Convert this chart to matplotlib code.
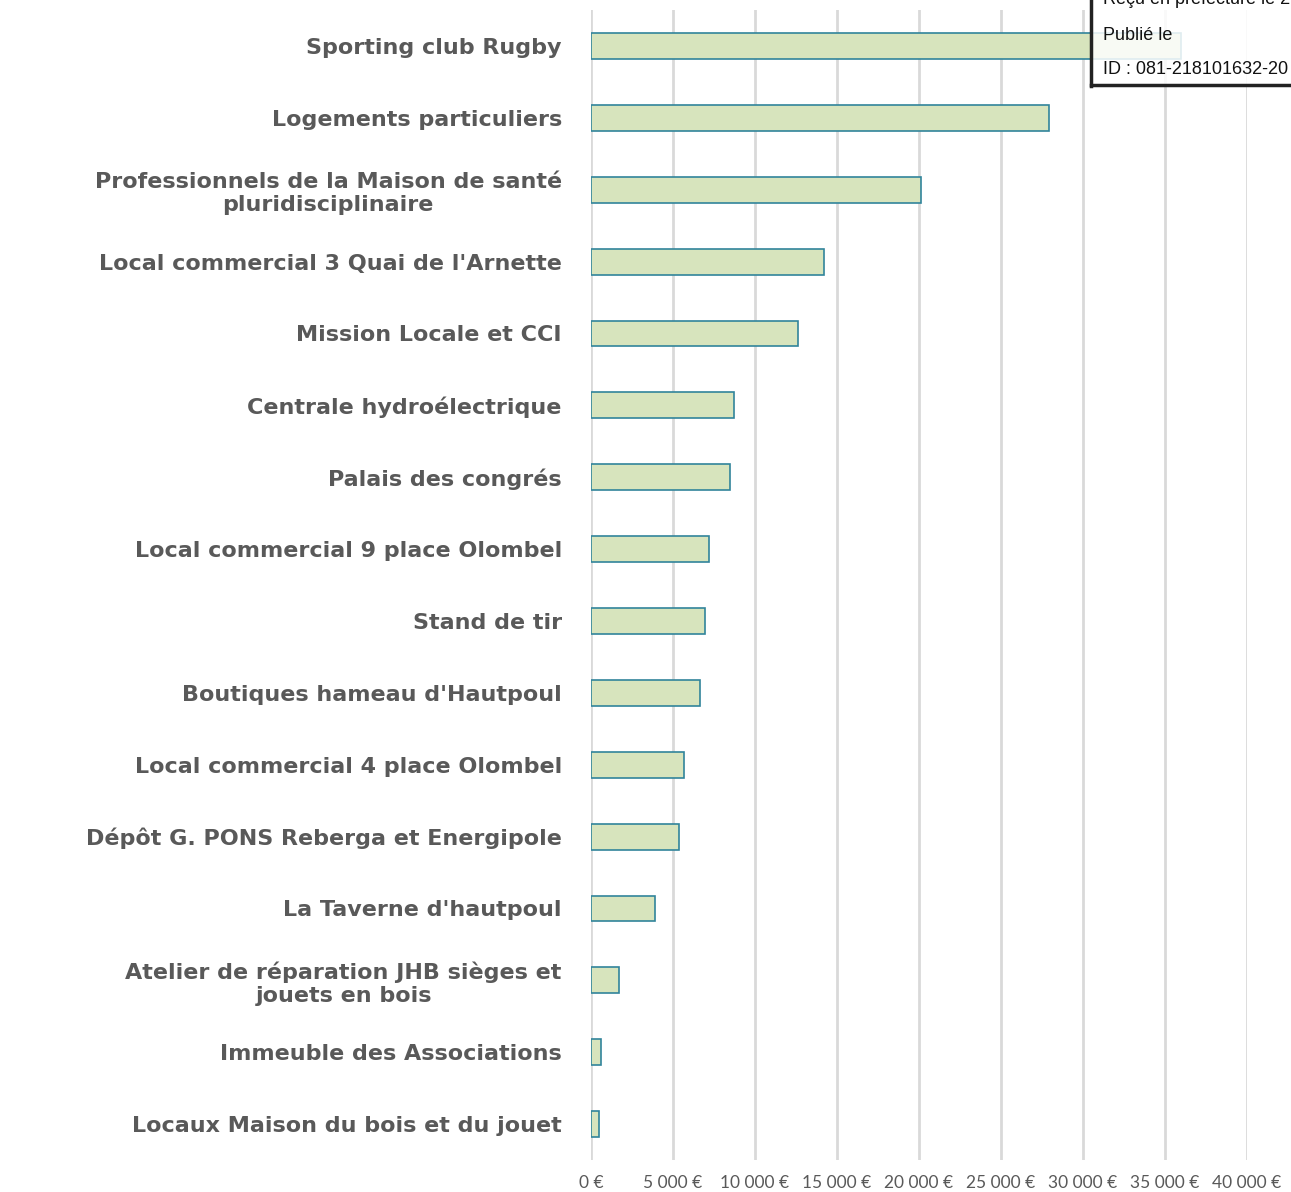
import matplotlib.pyplot as plt
from matplotlib.patches import Rectangle

# Category labels (top to bottom) and amounts in euros
categories = [
    "Sporting club Rugby",
    "Logements particuliers",
    "Professionnels de la Maison de santé\npluridisciplinaire",
    "Local commercial 3 Quai de l'Arnette",
    "Mission Locale et CCI",
    "Centrale hydroélectrique",
    "Palais des congrés",
    "Local commercial 9 place Olombel",
    "Stand de tir",
    "Boutiques hameau d'Hautpoul",
    "Local commercial 4 place Olombel",
    "Dépôt G. PONS Reberga et Energipole",
    "La Taverne d'hautpoul",
    "Atelier de réparation JHB sièges et\njouets en bois",
    "Immeuble des Associations",
    "Locaux Maison du bois et du jouet",
]
amounts = [36000, 27900, 20100, 14200, 12600, 8720, 8480, 7200,
           6950, 6650, 5670, 5370, 3900, 1710, 610, 490]

x_ticks = [0, 5000, 10000, 15000, 20000, 25000, 30000, 35000, 40000]
x_tick_labels = ["0 €", "5 000 €", "10 000 €", "15 000 €", "20 000 €",
                 "25 000 €", "30 000 €", "35 000 €", "40 000 €"]

stamp_lines = ["Reçu en préfecture le 2", "Publié le", "ID : 081-218101632-20"]

W, H = 1291, 1192
fig = plt.figure(figsize=(W / 100, H / 100), dpi=100)
ax = fig.add_axes([591 / W, 1 - 1160 / H, (1247 - 591) / W, 1150 / H])

ypos = list(range(len(categories)))
ax.barh(ypos, amounts, height=0.36, color="#D7E4BD",
        edgecolor="#31849B", linewidth=1.2, zorder=3)

ax.set_xlim(0, 40000)
ax.set_ylim(len(categories) - 0.5, -0.5)

ax.set_xticks(x_ticks)
ax.set_xticklabels(x_tick_labels, fontsize=12.5, color="#595959",
                   family="Lato")
ax.set_yticks(ypos)
ax.set_yticklabels(categories, fontsize=16, color="#595959",
                   family="DejaVu Sans", fontweight="bold")
for lbl in ax.get_yticklabels():
    lbl.set_multialignment("center")

ax.tick_params(axis="x", length=0, pad=11)
ax.tick_params(axis="y", length=0, pad=21)
ax.grid(axis="x", color="#D9D9D9", linewidth=2, zorder=0)
for s in ax.spines.values():
    s.set_visible(False)

# stamp box in the top right corner
box = Rectangle((1090 / W, 1 - 86 / H), 0.5, 0.5, transform=fig.transFigure,
                facecolor="white", alpha=0.85, edgecolor="none", zorder=10)
fig.patches.append(box)
fig.add_artist(plt.Line2D([1091 / W, 1091 / W], [1 - 86 / H, 1.01],
                          transform=fig.transFigure, color="#222222",
                          linewidth=2.5, zorder=11))
fig.add_artist(plt.Line2D([1091 / W, 1.01], [1 - 85 / H, 1 - 85 / H],
                          transform=fig.transFigure, color="#222222",
                          linewidth=2.5, zorder=11))
for i, line in enumerate(stamp_lines):
    fig.text(1103 / W, 1 - (0 + 35 * i) / H, line, fontsize=13,
             family="Liberation Sans", color="#111111", va="center",
             ha="left", zorder=12)

fig.savefig("out.png", dpi=100)
